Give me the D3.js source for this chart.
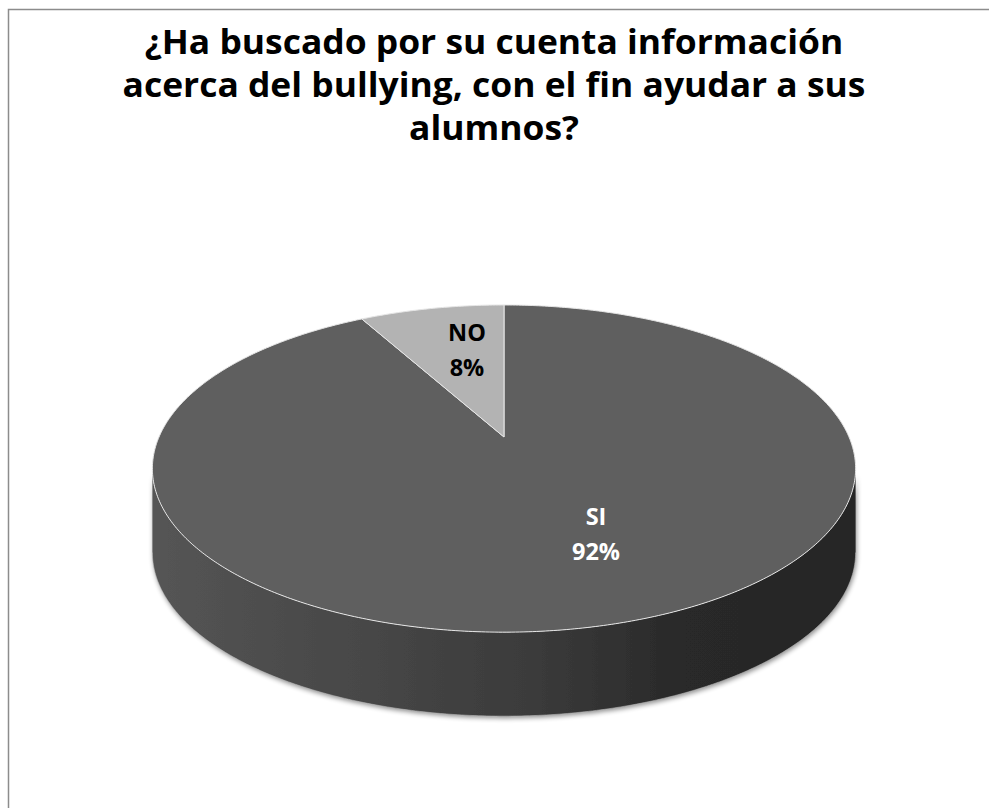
<!DOCTYPE html>
<html>
<head>
<meta charset="utf-8">
<script src="https://cdnjs.cloudflare.com/ajax/libs/d3/7.8.5/d3.min.js"></script>
<style>
  body { margin: 0; background: #fff; }
  svg { display: block; }
</style>
</head>
<body>
<svg id="chart" width="989" height="808"></svg>
<script>
const titleLines = ['¿Ha buscado por su cuenta información', 'acerca del bullying, con el fin ayudar a sus', 'alumnos?'];
const categories = ['SI', 'NO'];
const values = [92, 8];
const topColors = ['#5f5f5f', '#b3b3b3'];
const labelColors = ['#ffffff', '#000000'];

const W = 989, H = 808;
const svg = d3.select('#chart');
const FONT = "'Open Sans', 'Liberation Sans', sans-serif";

// chart frame (only top and left edges show in the crop)
svg.append('path')
  .attr('d', `M8.5,${H} V9.5 H${W}`)
  .attr('fill', 'none')
  .attr('stroke', '#8c8c8c')
  .attr('stroke-width', 1.5);

// title: Calibri-like proportions -> squeeze Open Sans horizontally
const lineY = [54, 97, 140];
const tl = svg.append('g').selectAll('text')
  .data(titleLines)
  .enter()
  .append('text')
  .attr('x', 0)
  .attr('y', 0)
  .attr('text-anchor', 'middle')
  .attr('font-family', FONT)
  .attr('font-weight', 'bold')
  .attr('font-size', 34)
  .attr('fill', '#000')
  .text(d => d);
const sx = 743 / tl.nodes()[1].getComputedTextLength();
tl.attr('transform', (d, i) => `translate(494,${lineY[i]}) scale(${sx},1)`);

// 3D pie geometry (simple perspective tilt)
const cx = 504, cy = 437;     // projected centre
const R = 345, Ry = 157.5, persp = 0.193, depth = 84;

function proj(angle, dy) {
  // angle in d3 convention: 0 at 12 o'clock, clockwise
  const u = Math.sin(angle), v = -Math.cos(angle);
  const w = 1 / (1 - persp * v);
  return [cx + R * u * w, cy + Ry * v * w + (dy || 0)];
}

function arcPoints(a0, a1, dy) {
  const n = Math.max(2, Math.ceil(Math.abs(a1 - a0) / 0.01));
  return d3.range(n + 1).map(i => proj(a0 + (a1 - a0) * i / n, dy));
}

const pie = d3.pie().sort(null).value(d => d)(values);
const line = d3.line();

const defs = svg.append('defs');
const grad = defs.append('linearGradient')
  .attr('id', 'side')
  .attr('gradientUnits', 'userSpaceOnUse')
  .attr('x1', 150).attr('x2', 860).attr('y1', 0).attr('y2', 0);
[[0, '#555555'], [0.3, '#474747'], [0.55, '#3a3a3a'], [0.75, '#292929'], [1, '#262626']]
  .forEach(s => grad.append('stop').attr('offset', s[0]).attr('stop-color', s[1]));

const shadow = defs.append('filter').attr('id', 'shadow')
  .attr('x', '-10%').attr('y', '-10%').attr('width', '120%').attr('height', '130%');
shadow.append('feGaussianBlur').attr('in', 'SourceAlpha').attr('stdDeviation', 2.5);
shadow.append('feOffset').attr('dx', 1).attr('dy', 2).attr('result', 'b');
shadow.append('feComponentTransfer').append('feFuncA').attr('type', 'linear').attr('slope', 0.45);
const merge = shadow.append('feMerge');
merge.append('feMergeNode');
merge.append('feMergeNode').attr('in', 'SourceGraphic');

// front wall: from right silhouette round the near side to left silhouette
const silhouette = Math.acos(-persp);
const aR = silhouette, aL = 2 * Math.PI - silhouette;
const topEdge = arcPoints(aR, aL, 0);
const botEdge = arcPoints(aL, aR, depth);
svg.append('path')
  .attr('d', line(topEdge.concat(botEdge)) + 'Z')
  .attr('fill', 'url(#side)')
  .attr('filter', 'url(#shadow)');
svg.append('path')
  .attr('d', line(arcPoints(aR, aL, depth)))
  .attr('fill', 'none')
  .attr('stroke', '#bdbdbd')
  .attr('stroke-width', 0.8)
  .attr('stroke-opacity', 0.7);

// top faces
svg.append('g').selectAll('path')
  .data(pie)
  .enter()
  .append('path')
  .attr('d', d => line([[cx, cy]].concat(arcPoints(d.startAngle, d.endAngle, 0))) + 'Z')
  .attr('fill', (d, i) => topColors[i])
  .attr('stroke', '#e6e6e6')
  .attr('stroke-width', 1)
  .attr('stroke-linejoin', 'round');

// labels
const labelPos = [[596, 525], [467, 341]];
const lab = svg.append('g');
pie.forEach((d, i) => {
  const t = lab.append('text')
    .attr('x', labelPos[i][0])
    .attr('y', labelPos[i][1])
    .attr('text-anchor', 'middle')
    .attr('font-family', FONT)
    .attr('font-weight', 'bold')
    .attr('font-size', 23.5)
    .attr('fill', labelColors[i]);
  t.append('tspan').attr('x', labelPos[i][0]).text(categories[i]);
  t.append('tspan').attr('x', labelPos[i][0]).attr('dy', 35)
    .text(Math.round(d.value / d3.sum(values) * 100) + '%');
});
</script>
</body>
</html>
